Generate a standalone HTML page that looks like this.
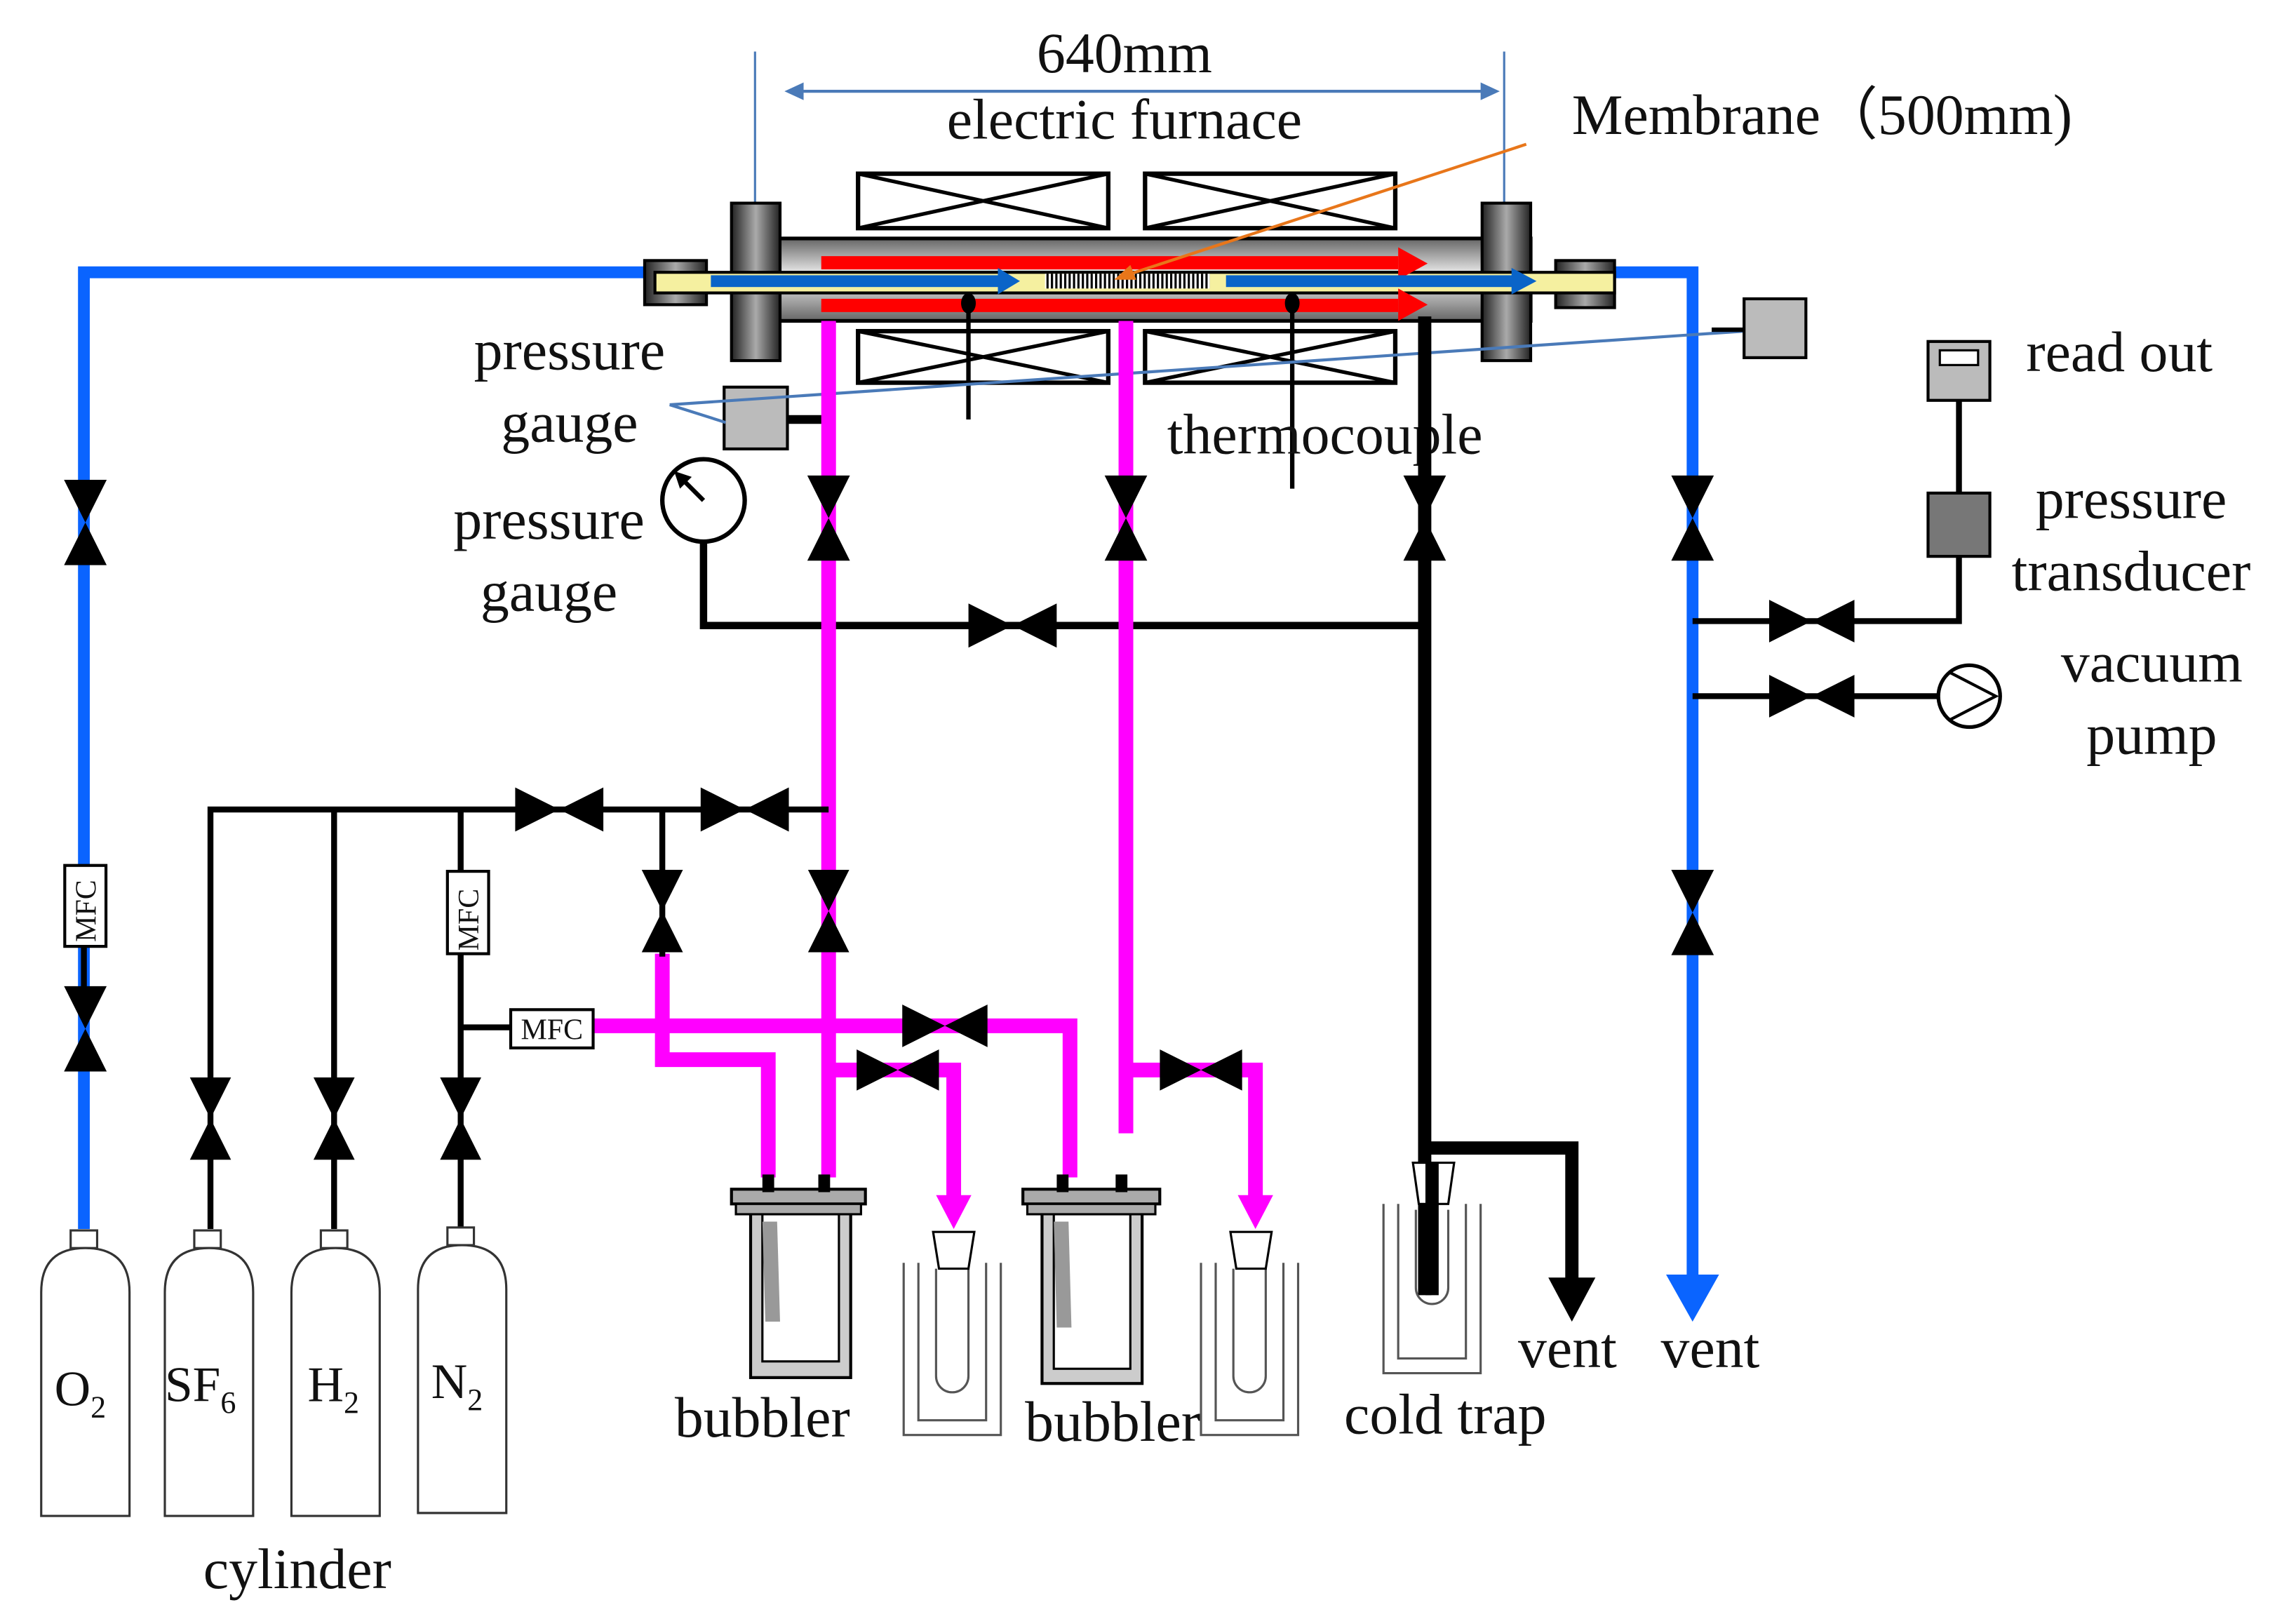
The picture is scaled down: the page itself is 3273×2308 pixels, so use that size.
<!DOCTYPE html>
<html><head><meta charset="utf-8"><style>
html,body{margin:0;padding:0;background:#fff;}
svg{display:block;}
text{font-family:"Liberation Serif",serif;fill:#111;}
</style></head><body>
<svg width="3273" height="2308" viewBox="0 0 1560 1100" xmlns="http://www.w3.org/2000/svg">
<defs>
<linearGradient id="tube" x1="0" y1="0" x2="0" y2="1">
<stop offset="0" stop-color="#666"/><stop offset="0.45" stop-color="#f2f2f2"/><stop offset="1" stop-color="#666"/></linearGradient>
<linearGradient id="fl" x1="0" y1="0" x2="1" y2="0">
<stop offset="0" stop-color="#222"/><stop offset="0.5" stop-color="#aaa"/><stop offset="1" stop-color="#222"/></linearGradient>
<symbol id="vv" viewBox="0 0 30 60"><polygon points="0,0 30,0 15,30" fill="#000"/><polygon points="0,60 30,60 15,30" fill="#000"/></symbol>
<symbol id="vh" viewBox="0 0 60 30"><polygon points="0,0 0,30 30,15" fill="#000"/><polygon points="60,0 60,30 30,15" fill="#000"/></symbol>
<pattern id="hatch" width="3" height="3" patternUnits="userSpaceOnUse"><rect width="3" height="3" fill="#fff"/><rect width="1.5" height="3" fill="#000"/></pattern>
</defs>

<!-- dimension -->
<line x1="513" y1="35" x2="513" y2="140" stroke="#4a7ab8" stroke-width="1.5"/>
<line x1="1022" y1="35" x2="1022" y2="140" stroke="#4a7ab8" stroke-width="1.5"/>
<line x1="538" y1="62" x2="1015" y2="62" stroke="#4a7ab8" stroke-width="2"/>
<polygon points="533,62 546,56 546,68" fill="#4a7ab8"/>
<polygon points="1019,62 1006,56 1006,68" fill="#4a7ab8"/>
<text x="764" y="49" font-size="39" text-anchor="middle">640mm</text>
<text x="764" y="94" font-size="39" text-anchor="middle">electric  furnace</text>
<text x="1068" y="91" font-size="39">Membrane（500mm)</text>

<!-- heaters -->
<g fill="#fff" stroke="#000" stroke-width="3">
<rect x="583" y="118" width="170" height="37"/><rect x="778" y="118" width="170" height="37"/>
<rect x="583" y="225" width="170" height="35"/><rect x="778" y="225" width="170" height="35"/>
</g>
<g stroke="#000" stroke-width="2.5">
<line x1="583" y1="118" x2="753" y2="155"/><line x1="753" y1="118" x2="583" y2="155"/>
<line x1="778" y1="118" x2="948" y2="155"/><line x1="948" y1="118" x2="778" y2="155"/>
<line x1="583" y1="225" x2="753" y2="260"/><line x1="753" y1="225" x2="583" y2="260"/>
<line x1="778" y1="225" x2="948" y2="260"/><line x1="948" y1="225" x2="778" y2="260"/>
</g>

<!-- blue lines -->
<polyline points="440,185 57,185 57,835" fill="none" stroke="#0a64ff" stroke-width="8"/>
<polyline points="1095,185 1150,185 1150,870" fill="none" stroke="#0a64ff" stroke-width="8"/>
<polygon points="1132,866 1168,866 1150,898" fill="#0a64ff"/>

<!-- furnace tube -->
<rect x="500" y="162" width="540" height="56" fill="url(#tube)" stroke="#000" stroke-width="2.5"/>
<rect x="497" y="138" width="33" height="107" fill="url(#fl)" stroke="#000" stroke-width="2"/>
<rect x="1007" y="138" width="33" height="107" fill="url(#fl)" stroke="#000" stroke-width="2"/>
<rect x="438" y="177" width="42" height="30" fill="url(#fl)" stroke="#000" stroke-width="2"/>
<rect x="1057" y="177" width="40" height="32" fill="url(#fl)" stroke="#000" stroke-width="2"/>
<rect x="445" y="185" width="652" height="14" fill="#f5f0a0" stroke="#000" stroke-width="2"/>
<rect x="710" y="186" width="112" height="10" fill="url(#hatch)"/>
<rect x="558" y="174" width="392" height="9" fill="#f00"/><polygon points="950,168 950,190 970,179" fill="#f00"/>
<rect x="558" y="203" width="392" height="9" fill="#f00"/><polygon points="950,196 950,218 970,207" fill="#f00"/>
<rect x="483" y="187" width="195" height="8" fill="#0a64c8"/><polygon points="678,182 678,200 693,191" fill="#0a64c8"/>
<rect x="833" y="187" width="195" height="8" fill="#0a64c8"/><polygon points="1027,182 1027,200 1044,191" fill="#0a64c8"/>
<line x1="1037" y1="98" x2="762" y2="188" stroke="#e8761a" stroke-width="2"/>
<polygon points="757,190 768,180 772,190" fill="#e8761a"/>

<!-- thermocouples -->
<line x1="658" y1="202" x2="658" y2="285" stroke="#000" stroke-width="3"/>
<ellipse cx="658" cy="206" rx="5" ry="7" fill="#000"/>
<line x1="878" y1="202" x2="878" y2="332" stroke="#000" stroke-width="3"/>
<ellipse cx="878" cy="206" rx="5" ry="7" fill="#000"/>
<text x="793" y="308" font-size="39">thermocouple</text>

<!-- pressure gauge box -->
<rect x="492" y="263" width="43" height="42" fill="#bbb" stroke="#000" stroke-width="2"/>
<line x1="535" y1="285" x2="563" y2="285" stroke="#000" stroke-width="6"/>
<polyline points="455,275 493,287" fill="none" stroke="#4a7ab8" stroke-width="2"/>
<polyline points="455,275 1185,225" fill="none" stroke="#4a7ab8" stroke-width="2"/>
<rect x="1185" y="203" width="42" height="40" fill="#bbb" stroke="#000" stroke-width="2"/>
<line x1="1163" y1="224" x2="1185" y2="224" stroke="#000" stroke-width="3"/>
<text x="387" y="251" font-size="39" text-anchor="middle">pressure</text>
<text x="387" y="300" font-size="39" text-anchor="middle">gauge</text>
<text x="373" y="366" font-size="39" text-anchor="middle">pressure</text>
<text x="373" y="415" font-size="39" text-anchor="middle">gauge</text>
<circle cx="478" cy="340" r="28" fill="#fff" stroke="#000" stroke-width="3"/>
<line x1="478" y1="340" x2="462" y2="324" stroke="#000" stroke-width="3"/>
<polygon points="458,320 470,324 462,332" fill="#000"/>

<!-- black lines -->
<polyline points="478,368 478,425 968,425" fill="none" stroke="#000" stroke-width="5"/>
<polyline points="968,215 968,780 1068,780 1068,872" fill="none" stroke="#000" stroke-width="9"/>
<polygon points="1052,868 1084,868 1068,898" fill="#000"/>
<line x1="968" y1="780" x2="968" y2="880" stroke="#000" stroke-width="9"/>

<!-- magenta -->
<g fill="none" stroke="#ff00ff" stroke-width="10">
<line x1="563" y1="218" x2="563" y2="800"/>
<polyline points="765,218 765,770"/>
<polyline points="765,727 853,727 853,815"/>
<polyline points="563,727 648,727 648,815"/>
<polyline points="403,697 727,697 727,800"/>
<polyline points="450,648 450,720 522,720 522,800"/>
</g>
<polygon points="636,812 660,812 648,835" fill="#ff00ff"/>
<polygon points="841,812 865,812 853,835" fill="#ff00ff"/>

<!-- right side -->
<rect x="1310" y="232" width="42" height="40" fill="#bbb" stroke="#000" stroke-width="2"/>
<rect x="1318" y="238" width="26" height="10" fill="#fff" stroke="#000" stroke-width="1.5"/>
<line x1="1331" y1="272" x2="1331" y2="335" stroke="#000" stroke-width="4"/>
<rect x="1310" y="335" width="42" height="43" fill="#777" stroke="#000" stroke-width="2"/>
<polyline points="1331,378 1331,422 1150,422" fill="none" stroke="#000" stroke-width="4"/>
<line x1="1150" y1="473" x2="1318" y2="473" stroke="#000" stroke-width="4"/>
<circle cx="1338" cy="473" r="21" fill="#fff" stroke="#000" stroke-width="2.5"/>
<polyline points="1325,457 1356,473 1325,489" fill="none" stroke="#000" stroke-width="2"/>
<text x="1440" y="252" font-size="39" text-anchor="middle">read out</text>
<text x="1448" y="352" font-size="39" text-anchor="middle">pressure</text>
<text x="1448" y="401" font-size="39" text-anchor="middle">transducer</text>
<text x="1462" y="463" font-size="39" text-anchor="middle">vacuum</text>
<text x="1462" y="512" font-size="39" text-anchor="middle">pump</text>

<!-- left manifold -->
<g stroke="#000" stroke-width="4" fill="none">
<polyline points="143,835 143,550 563,550"/>
<line x1="227" y1="550" x2="227" y2="835"/>
<line x1="313" y1="550" x2="313" y2="835"/>
<line x1="313" y1="698" x2="347" y2="698"/>
<line x1="450" y1="550" x2="450" y2="650"/>
<line x1="57" y1="642" x2="57" y2="672"/>
</g>
<rect x="44" y="588" width="28" height="55" fill="#fff" stroke="#000" stroke-width="2"/>
<text font-size="20" transform="translate(65,640) rotate(-90)">MFC</text>
<rect x="304" y="592" width="28" height="56" fill="#fff" stroke="#000" stroke-width="2"/>
<text font-size="20" transform="translate(325,646) rotate(-90)">MFC</text>
<rect x="347" y="686" width="56" height="26" fill="#fff" stroke="#000" stroke-width="2"/>
<text x="375" y="706" font-size="20" text-anchor="middle">MFC</text>

<!-- valves vertical -->
<use href="#vv" x="43" y="326" width="30" height="58"/>
<use href="#vv" x="43" y="670" width="30" height="58"/>
<use href="#vv" x="1135" y="323" width="30" height="58"/>
<use href="#vv" x="1135" y="591" width="30" height="58"/>
<use href="#vv" x="548" y="323" width="30" height="58"/>
<use href="#vv" x="750" y="323" width="30" height="58"/>
<use href="#vv" x="953" y="323" width="30" height="58"/>
<use href="#vv" x="435" y="591" width="30" height="56"/>
<use href="#vv" x="548" y="591" width="30" height="56"/>
<use href="#vv" x="128" y="732" width="30" height="56"/>
<use href="#vv" x="212" y="732" width="30" height="56"/>
<use href="#vv" x="298" y="732" width="30" height="56"/>
<use href="#vh" x="658" y="410" width="60" height="30"/>
<use href="#vh" x="1202" y="407" width="58" height="30"/>
<use href="#vh" x="1202" y="458" width="58" height="30"/>
<use href="#vh" x="350" y="535" width="60" height="30"/>
<use href="#vh" x="476" y="535" width="60" height="30"/>
<use href="#vh" x="613" y="682" width="58" height="30"/>
<use href="#vh" x="582" y="712" width="56" height="30"/>
<use href="#vh" x="788" y="712" width="56" height="30"/>

<!-- bubblers -->
<g>
<rect x="510" y="818" width="68" height="118" fill="#ccc" stroke="#000" stroke-width="2"/>
<rect x="518" y="825" width="52" height="100" fill="#fff" stroke="#000" stroke-width="1.5"/>
<rect x="497" y="808" width="91" height="10" fill="#aaa" stroke="#000" stroke-width="2"/>
<rect x="500" y="818" width="85" height="7" fill="#aaa" stroke="#000" stroke-width="1.5"/>
<polygon points="518,830 528,830 530,898 520,898" fill="#999"/>
<rect x="708" y="818" width="68" height="122" fill="#ccc" stroke="#000" stroke-width="2"/>
<rect x="716" y="825" width="52" height="105" fill="#fff" stroke="#000" stroke-width="1.5"/>
<rect x="695" y="808" width="93" height="10" fill="#aaa" stroke="#000" stroke-width="2"/>
<rect x="698" y="818" width="87" height="7" fill="#aaa" stroke="#000" stroke-width="1.5"/>
<polygon points="716,830 726,830 728,902 718,902" fill="#999"/>
</g>
<g fill="#000"><rect x="518" y="798" width="8" height="12"/><rect x="556" y="798" width="8" height="12"/><rect x="718" y="798" width="8" height="12"/><rect x="758" y="798" width="8" height="12"/></g>
<!-- cold traps -->
<g fill="none" stroke="#555" stroke-width="1.5">
<path d="M614,858 V975 H680 V858 M624,858 V965 H670 V858"/>
<path d="M636,862 V935 a11,11 0 0 0 22,0 V862"/>
<path d="M816,858 V975 H882 V858 M826,858 V965 H872 V858"/>
<path d="M838,862 V935 a11,11 0 0 0 22,0 V862"/>
<path d="M940,818 V933 H1006 V818 M950,818 V923 H996 V818"/>
<path d="M962,822 V875 a11,11 0 0 0 22,0 V822"/>
</g>
<g fill="#fff" stroke="#000" stroke-width="1.5">
<polygon points="634,837 662,837 658,862 638,862"/>
<polygon points="836,837 864,837 860,862 840,862"/>
<polygon points="960,790 988,790 984,818 964,818"/>
</g>
<line x1="973" y1="790" x2="973" y2="880" stroke="#000" stroke-width="9"/>
<text x="518" y="976" font-size="39" text-anchor="middle">bubbler</text>
<text x="756" y="979" font-size="39" text-anchor="middle">bubbler</text>
<text x="982" y="974" font-size="39" text-anchor="middle">cold trap</text>
<text x="1065" y="929" font-size="39" text-anchor="middle">vent</text>
<text x="1162" y="929" font-size="39" text-anchor="middle">vent</text>

<!-- cylinders -->
<g fill="#fff" stroke="#333" stroke-width="1.5">
<rect x="48" y="836" width="18" height="12"/><rect x="132" y="836" width="18" height="12"/><rect x="218" y="836" width="18" height="12"/><rect x="304" y="834" width="18" height="12"/>
<path d="M28,1030 V878 Q28,848 58,848 Q88,848 88,878 V1030 Z"/>
<path d="M112,1030 V878 Q112,848 142,848 Q172,848 172,878 V1030 Z"/>
<path d="M198,1030 V878 Q198,848 228,848 Q258,848 258,878 V1030 Z"/>
<path d="M284,1028 V876 Q284,846 314,846 Q344,846 344,876 V1028 Z"/>
</g>
<text x="37" y="955" font-size="34">O<tspan font-size="21" dy="8">2</tspan></text>
<text x="112" y="952" font-size="34">SF<tspan font-size="21" dy="8">6</tspan></text>
<text x="209" y="952" font-size="34">H<tspan font-size="21" dy="8">2</tspan></text>
<text x="293" y="950" font-size="34">N<tspan font-size="21" dy="8">2</tspan></text>
<text x="202" y="1079" font-size="39" text-anchor="middle">cylinder</text>
</svg>
</body></html>
